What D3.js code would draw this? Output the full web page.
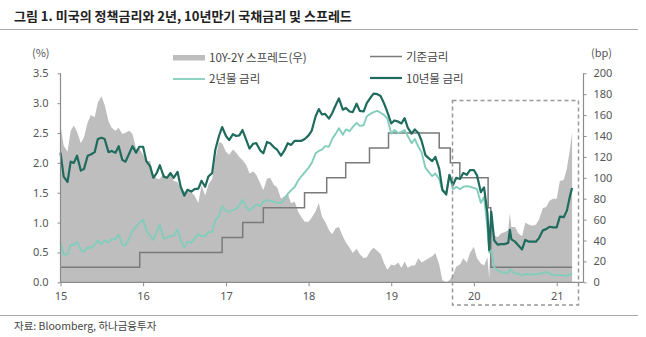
<!DOCTYPE html>
<html><head><meta charset="utf-8">
<script src="https://cdn.jsdelivr.net/npm/d3@7"></script>
<style>
body{margin:0;background:#fff;}
svg{display:block;font-family:"Noto Sans CJK KR","Noto Sans",sans-serif;}
</style></head><body>
<svg id="chart" width="646" height="337"></svg>
<script>
// ---------- DATA ----------
const dates = [
"2015-01-01","2015-01-15","2015-02-01","2015-02-15","2015-03-01","2015-03-15","2015-04-01","2015-04-15","2015-05-01","2015-05-15","2015-06-01","2015-06-15","2015-07-01","2015-07-15","2015-08-01","2015-08-15","2015-09-01","2015-09-15","2015-10-01","2015-10-15","2015-11-01","2015-11-15","2015-12-01","2015-12-15",
"2016-01-01","2016-01-15","2016-02-01","2016-02-15","2016-03-01","2016-03-15","2016-04-01","2016-04-15","2016-05-01","2016-05-15","2016-06-01","2016-06-15","2016-07-01","2016-07-15","2016-08-01","2016-08-15","2016-09-01","2016-09-15","2016-10-01","2016-10-15","2016-11-01","2016-11-15","2016-12-01","2016-12-15",
"2017-01-01","2017-01-15","2017-02-01","2017-02-15","2017-03-01","2017-03-15","2017-04-01","2017-04-15","2017-05-01","2017-05-15","2017-06-01","2017-06-15","2017-07-01","2017-07-15","2017-08-01","2017-08-15","2017-09-01","2017-09-15","2017-10-01","2017-10-15","2017-11-01","2017-11-15","2017-12-01","2017-12-15",
"2018-01-01","2018-01-15","2018-02-01","2018-02-15","2018-03-01","2018-03-15","2018-04-01","2018-04-15","2018-05-01","2018-05-15","2018-06-01","2018-06-15","2018-07-01","2018-07-15","2018-08-01","2018-08-15","2018-09-01","2018-09-15","2018-10-01","2018-10-15","2018-11-01","2018-11-15","2018-12-01","2018-12-15",
"2019-01-01","2019-01-15","2019-02-01","2019-02-15","2019-03-01","2019-03-15","2019-04-01","2019-04-15","2019-05-01","2019-05-15","2019-06-01","2019-06-15","2019-07-01","2019-07-15","2019-08-01","2019-08-15","2019-09-01","2019-09-15","2019-10-01","2019-10-15","2019-11-01","2019-11-15","2019-12-01","2019-12-15",
"2020-01-01","2020-01-15","2020-02-01","2020-02-15","2020-03-01","2020-03-09","2020-03-18","2020-03-31","2020-04-15","2020-05-01","2020-05-15","2020-06-01","2020-06-08","2020-06-15","2020-07-01","2020-07-15","2020-08-01","2020-08-15","2020-09-01","2020-09-15","2020-10-01","2020-10-15","2020-11-01","2020-11-15","2020-12-01","2020-12-15",
"2021-01-01","2021-01-15","2021-02-01","2021-02-15","2021-03-01","2021-03-10"
];
const yield10 = [
2.17,1.77,1.68,2.02,2.00,2.12,1.87,1.90,2.12,2.14,2.18,2.40,2.42,2.40,2.18,2.20,2.17,2.28,2.05,2.02,2.16,2.28,2.17,2.27,
2.27,2.03,1.94,1.75,1.83,1.96,1.77,1.75,1.83,1.75,1.85,1.60,1.45,1.55,1.52,1.56,1.57,1.70,1.60,1.77,1.83,2.22,2.45,2.60,
2.45,2.38,2.48,2.45,2.46,2.55,2.38,2.24,2.32,2.33,2.21,2.16,2.35,2.33,2.26,2.22,2.12,2.20,2.33,2.30,2.37,2.37,2.37,2.40,
2.46,2.54,2.78,2.90,2.81,2.82,2.74,2.83,2.97,3.08,2.89,2.92,2.86,2.85,2.99,2.87,2.86,3.00,3.09,3.16,3.15,3.12,2.99,2.85,
2.66,2.71,2.69,2.66,2.75,2.59,2.49,2.56,2.50,2.37,2.13,2.08,2.03,2.10,1.90,1.55,1.47,1.80,1.63,1.75,1.73,1.83,1.80,1.88,
1.88,1.79,1.51,1.59,1.15,0.54,1.18,0.70,0.63,0.64,0.64,0.66,0.88,0.72,0.68,0.62,0.55,0.71,0.68,0.68,0.68,0.74,0.87,0.89,0.93,0.92,
0.92,1.10,1.09,1.20,1.45,1.58
];
const yield2 = [
0.67,0.46,0.47,0.63,0.63,0.68,0.54,0.51,0.59,0.57,0.63,0.70,0.64,0.70,0.67,0.72,0.72,0.80,0.63,0.62,0.74,0.86,0.93,0.99,
1.05,0.87,0.78,0.71,0.84,0.97,0.73,0.75,0.78,0.78,0.89,0.70,0.58,0.68,0.66,0.73,0.81,0.77,0.77,0.84,0.84,1.04,1.11,1.27,
1.20,1.18,1.21,1.23,1.29,1.38,1.26,1.20,1.26,1.30,1.28,1.35,1.38,1.36,1.35,1.33,1.33,1.38,1.48,1.54,1.60,1.70,1.78,1.84,
1.92,2.00,2.16,2.20,2.22,2.28,2.27,2.40,2.49,2.58,2.47,2.56,2.53,2.60,2.67,2.62,2.63,2.78,2.82,2.85,2.87,2.84,2.80,2.74,
2.49,2.55,2.50,2.52,2.55,2.45,2.33,2.40,2.27,2.18,1.92,1.85,1.78,1.82,1.73,1.53,1.50,1.78,1.56,1.60,1.56,1.60,1.61,1.60,
1.58,1.56,1.33,1.43,0.91,0.50,0.54,0.25,0.20,0.17,0.16,0.16,0.22,0.19,0.15,0.15,0.11,0.14,0.13,0.14,0.13,0.14,0.16,0.17,0.15,0.12,
0.12,0.13,0.11,0.11,0.13,0.15
];
const spreadBp = [
150,131,125,145,150,144,133,139,153,160,158,172,178,170,154,148,145,148,142,143,145,142,128,128,
122,116,116,104,99,99,104,100,105,97,96,90,87,87,86,83,76,93,83,93,99,118,134,133,
125,122,127,124,120,117,112,104,106,103,95,88,99,100,93,91,80,82,85,76,77,68,62,58,
58,62,68,76,63,58,50,46,52,53,44,38,33,28,32,27,23,24,30,33,30,27,18,12,
17,16,19,14,20,14,16,16,23,19,21,23,25,28,17,2,0,2,7,15,17,23,19,28,
34,23,18,16,24,4,64,45,43,47,48,50,66,53,53,47,44,57,55,54,55,60,71,72,78,80,
80,97,98,109,128,143
];
const policyDates = ["2015-01-01","2015-12-17","2016-12-15","2017-03-16","2017-06-15","2017-12-14","2018-03-22","2018-06-14","2018-09-27","2018-12-20","2019-08-01","2019-09-19","2019-10-31","2020-03-04","2020-03-16","2021-03-10"];
const policyRates = [0.25,0.50,0.75,1.00,1.25,1.50,1.75,2.00,2.25,2.50,2.25,2.00,1.75,1.25,0.25,0.25];
const leftTicks = [0,0.5,1.0,1.5,2.0,2.5,3.0,3.5];
const rightTicks = [0,20,40,60,80,100,120,140,160,180,200];
const yearTicks = ["2015-01-01","2016-01-01","2017-01-01","2018-01-01","2019-01-01","2020-01-01","2021-01-01"];
const yearLabels = ["15","16","17","18","19","20","21"];

// ---------- CHART ----------
const parse = d3.timeParse("%Y-%m-%d");
const svg = d3.select("#chart");
const x = d3.scaleTime().domain([parse("2015-01-01"), parse("2021-01-01")]).range([60.5, 556.7]);
const yL = d3.scaleLinear().domain([0, 3.5]).range([282.3, 73.3]);
const yR = d3.scaleLinear().domain([0, 200]).range([282.3, 73.3]);

const series = dates.map((d, i) => ({date: parse(d), y10: yield10[i], y2: yield2[i], s: spreadBp[i]}));
const policy = policyDates.map((d, i) => ({date: parse(d), v: policyRates[i]}));

// title
svg.append("text").attr("x", 14).attr("y", 21).attr("font-size", 13).attr("font-weight", 700)
  .attr("fill", "#222").text("그림 1. 미국의 정책금리와 2년, 10년만기 국채금리 및 스프레드");
svg.append("line").attr("x1", 0).attr("x2", 638).attr("y1", 29.5).attr("y2", 29.5).attr("stroke", "#a8a8a8").attr("stroke-width", 1.2);
svg.append("line").attr("x1", 0).attr("x2", 638).attr("y1", 315.5).attr("y2", 315.5).attr("stroke", "#a8a8a8").attr("stroke-width", 1.2);
svg.append("text").attr("x", 14).attr("y", 330).attr("font-size", 10.5).attr("fill", "#444").text("자료: Bloomberg, 하나금융투자");

// spread area
svg.append("path").datum(series)
  .attr("fill", "#bebebe")
  .attr("d", d3.area().x(d => x(d.date)).y0(yR(0)).y1(d => yR(Math.max(0, d.s)))(series));

// policy line
svg.append("path").datum(policy).attr("fill", "none").attr("stroke", "#7a7a7a").attr("stroke-width", 1.5)
  .attr("d", d3.line().curve(d3.curveStepAfter).x(d => x(d.date)).y(d => yL(d.v)));

// 2Y
svg.append("path").datum(series).attr("fill", "none").attr("stroke", "#82cdbb").attr("stroke-width", 1.9)
  .attr("stroke-linejoin", "round")
  .attr("d", d3.line().x(d => x(d.date)).y(d => yL(d.y2)));
// 10Y
svg.append("path").datum(series).attr("fill", "none").attr("stroke", "#1f6b5d").attr("stroke-width", 2.2)
  .attr("stroke-linejoin", "round")
  .attr("d", d3.line().x(d => x(d.date)).y(d => yL(d.y10)));

// axes
const axisColor = "#8c8c8c", labelColor = "#555";
const gL = svg.append("g").attr("transform", "translate(60.5,0)")
  .call(d3.axisLeft(yL).tickValues(leftTicks).tickFormat(d3.format(".1f")).tickSize(3).tickPadding(9));
const gR = svg.append("g").attr("transform", "translate(583.5,0)")
  .call(d3.axisRight(yR).tickValues(rightTicks).tickSize(3).tickPadding(7));
const gX = svg.append("g").attr("transform", "translate(0,282.3)")
  .call(d3.axisBottom(x).tickValues(yearTicks.map(parse)).tickFormat((d, i) => yearLabels[i]).tickSize(4).tickPadding(6));
gX.select(".domain").remove();
svg.append("line").attr("x1", 60.5).attr("x2", 583.5).attr("y1", 282.3).attr("y2", 282.3).attr("stroke", axisColor).attr("stroke-width", 1.2);
[gL, gR, gX].forEach(g => {
  g.selectAll(".domain").attr("stroke", axisColor).attr("stroke-width", 1.2);
  g.selectAll(".tick line").attr("stroke", axisColor);
  g.selectAll(".tick text").attr("fill", labelColor).attr("font-size", 11)
    .attr("font-family", "'Noto Sans','Noto Sans CJK KR',sans-serif");
});
gL.select(".domain").attr("d", "M0,73.3V282.3");
gR.select(".domain").attr("d", "M0,73.3V282.3");

svg.append("text").attr("x", 32).attr("y", 57).attr("font-size", 11).attr("fill", labelColor).text("(%)");
svg.append("text").attr("x", 591).attr("y", 57).attr("font-size", 11).attr("fill", labelColor).text("(bp)");

// dashed highlight box
svg.append("rect").attr("x", 452.5).attr("y", 100.5).attr("width", 126).attr("height", 204.5)
  .attr("fill", "none").attr("stroke", "#999").attr("stroke-width", 1.5).attr("stroke-dasharray", "4,3");

// legend
const lg = svg.append("g").attr("font-size", 11.5).attr("fill", "#444");
lg.append("rect").attr("x", 173).attr("y", 55).attr("width", 32).attr("height", 5.5).attr("fill", "#bebebe");
lg.append("text").attr("x", 209).attr("y", 62).text("10Y-2Y 스프레드(우)");
lg.append("line").attr("x1", 173).attr("x2", 205).attr("y1", 79).attr("y2", 79).attr("stroke", "#82cdbb").attr("stroke-width", 1.8);
lg.append("text").attr("x", 209).attr("y", 83).text("2년물 금리");
lg.append("line").attr("x1", 370).attr("x2", 402).attr("y1", 56.5).attr("y2", 56.5).attr("stroke", "#7a7a7a").attr("stroke-width", 1.5);
lg.append("text").attr("x", 406).attr("y", 61).text("기준금리");
lg.append("line").attr("x1", 370).attr("x2", 402).attr("y1", 78).attr("y2", 78).attr("stroke", "#1f6b5d").attr("stroke-width", 2.2);
lg.append("text").attr("x", 406).attr("y", 82.5).text("10년물 금리");
</script>
</body></html>
